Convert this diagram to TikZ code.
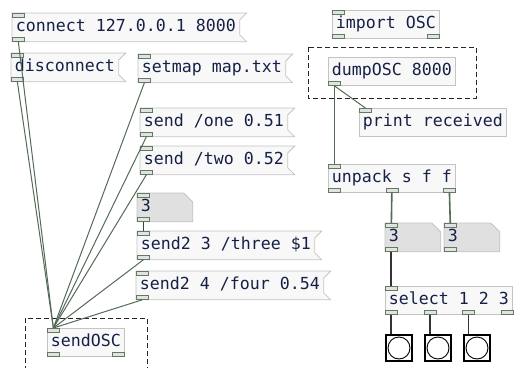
\documentclass[tikz,border=0pt]{standalone}
\usepackage{fontspec}
\setmonofont{DejaVu Sans Mono}
\usetikzlibrary{backgrounds,calc}
\definecolor{boxline}{RGB}{196,196,196}
\definecolor{boxfill}{RGB}{248,248,248}
\definecolor{atomfill}{RGB}{224,224,224}
\definecolor{portline}{RGB}{100,120,100}
\definecolor{portfill}{RGB}{222,228,222}
\definecolor{wirecol}{RGB}{85,105,88}
\definecolor{pdtext}{RGB}{22,32,70}
\newcommand{\pdfont}{\ttfamily\fontsize{16.6}{20}\selectfont}
\begin{document}
\begin{tikzpicture}[x=1pt, y=-1pt,
    box/.style={anchor=north west, draw=boxline, fill=boxfill, line width=0.8pt, minimum height=28pt, inner xsep=3.5pt, inner ysep=0pt, text height=12pt, text depth=3.5pt, font=\pdfont, text=pdtext},
    msg/.style={box, draw=none, fill=none},
    atom/.style={box, draw=none, fill=none, text width=48pt, align=left},
    port/.style={draw=portline, fill=portfill, line width=0.7pt, minimum width=12pt, minimum height=4pt, inner sep=0pt},
    wire/.style={wirecol, line width=1pt},
    fat/.style={wirecol, line width=1.6pt},
    hard/.style={black!80, line width=1.8pt},
    bng/.style={anchor=north west, draw=black, line width=2pt, fill=white, minimum size=26pt, inner sep=0pt},
    frame/.style={black!85, line width=1pt, dash pattern=on 5pt off 3pt}
]
\useasboundingbox (0,0) rectangle (517,367);
\clip (0,0) rectangle (517,367);

% dashed frames
\draw[frame] (25,318) rectangle (147,380);
\draw[frame] (308,47) rectangle (476,98);

% sending side
\node[msg] (con) at (12,13) {connect 127.0.0.1 8000};
\node[msg] (dis) at (11,53) {disconnect};
\node[msg] (map) at (138,54) {setmap map.txt};
\node[msg] (one) at (140,108) {send /one 0.51};
\node[msg] (two) at (140,146) {send /two 0.52};
\node[atom] (num) at (137,193) {3};
\node[msg] (three) at (137,231) {send2 3 /three \$1};
\node[msg] (four) at (136,271) {send2 4 /four 0.54};
\node[box] (sosc) at (47,328) {sendOSC};

% receiving side
\node[box] (imp) at (332,10) {import OSC};
\node[box] (dump) at (328,57) {dumpOSC 8000};
\node[box] (print) at (359,108) {print received};
\node[box] (unp) at (328,164) {unpack s f f};
\node[atom] (n1) at (385,223) {3};
\node[atom] (n2) at (444,223) {3};
\node[box] (sel) at (385,286) {select 1 2 3};
\foreach \i/\x in {0/385,1/424,2/463} {
  \node[bng] (bang\i) at (\x,334) {};
  \draw[line width=0.9pt] (bang\i.center) circle[radius=11pt];
}

% message flags and number boxes
\begin{scope}[on background layer]
  \foreach \m in {con,dis,map,one,two,three,four}
    \filldraw[draw=boxline, fill=boxfill, line width=0.8pt] (\m.north west) -- ([xshift=7pt]\m.north east) -- ([yshift=-7pt]\m.north east) -- ([yshift=7pt]\m.south east) -- ([xshift=7pt]\m.south east) -- (\m.south west) -- cycle;
  \foreach \a in {num,n1,n2}
    \filldraw[draw=boxline, fill=atomfill, line width=0.8pt] (\a.north west) -- ([xshift=-9pt]\a.north east) -- ([yshift=-9pt]\a.north east) -- (\a.south east) -- (\a.south west) -- cycle;
\end{scope}

% inlets and outlets
\foreach \b in {con,dis,map,one,two,num,three,four,sosc,imp,print,unp,n1,n2,sel}
  \node[port, anchor=north west] (\b-i) at (\b.north west) {};
\foreach \b in {con,dis,map,one,two,num,three,four,sosc,imp,dump,unp,n1,n2}
  \node[port, anchor=south west] (\b-o) at (\b.south west) {};
\foreach \b in {sosc,imp,unp}
  \node[port, anchor=south east] (\b-r) at (\b.south east) {};
\node[port, anchor=south] (unp-m) at (unp.south) {};
\foreach \i in {0,...,3}
  \node[port, anchor=south west] (sel-o\i) at ($(sel.south west)!\i/3!(sel.south east)+(-4*\i,0)$) {};

% wires
\foreach \s in {con,dis,map,one,two,three,four}
  \draw[wire] (\s-o.south) -- (sosc-i.north);
\draw[wire, black!75] (num-o) -- (three-i);
\draw[wire] (dump-o.south) -- (print-i.north);
\draw[fat] (dump-o) -- (unp-i);
\draw[fat] (unp-m) -- (n1-i);
\draw[fat] (unp-r) -- (n2-i);
\draw[hard] (n1-o) -- (sel-i);
\foreach \i in {0,1,2}
  \draw[hard] (sel-o\i.south) -- (sel-o\i.south |- bang\i.north);
\end{tikzpicture}
\end{document}
